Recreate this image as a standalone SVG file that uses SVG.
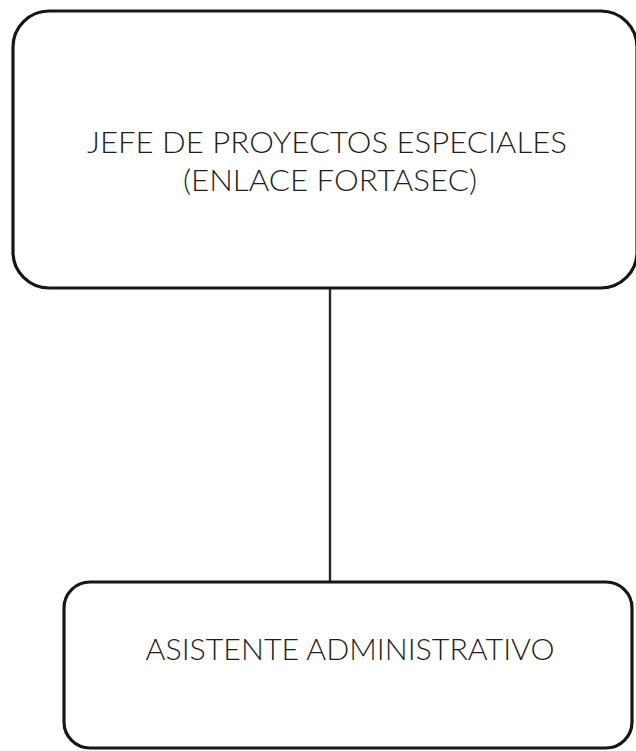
<svg xmlns="http://www.w3.org/2000/svg" width="636" height="751" viewBox="0 0 636 751">
<style>
.box{fill:#ffffff;stroke:#161616;stroke-width:3.2}
.lbl{font-family:Lato,"Open Sans","Liberation Sans",sans-serif;font-weight:300;font-size:29px;fill:#1e1e1e;text-anchor:middle}
.conn{stroke:#2a2a2a;stroke-width:2.4;fill:none}
</style>
<rect width="636" height="751" fill="#ffffff"/>
<g id="connectors">
<line class="conn" x1="330" y1="288" x2="330" y2="582"/>
</g>
<g id="jefe">
<rect class="box" x="13" y="11" width="624" height="277" rx="36" ry="36"/>
<text class="lbl" x="327" y="153" textLength="480" lengthAdjust="spacingAndGlyphs">JEFE DE PROYECTOS ESPECIALES</text>
<text class="lbl" x="330" y="191" textLength="294" lengthAdjust="spacingAndGlyphs">(ENLACE FORTASEC)</text>
</g>
<g id="asistente">
<rect class="box" x="64" y="582" width="568" height="166" rx="26" ry="26"/>
<text class="lbl" x="350" y="660" textLength="409" lengthAdjust="spacingAndGlyphs">ASISTENTE ADMINISTRATIVO</text>
</g>
</svg>
